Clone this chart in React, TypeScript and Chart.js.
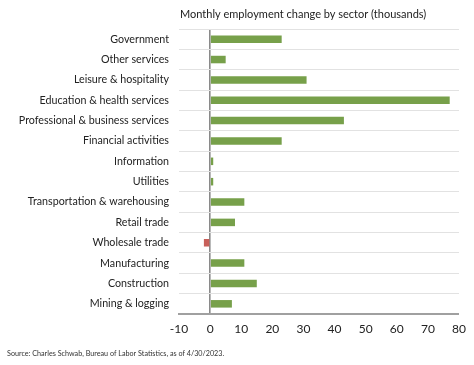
import React, { useEffect, useRef } from "react";
import { Chart, registerables } from "chart.js";

Chart.register(...registerables);

const sectors = [
  "Government",
  "Other services",
  "Leisure & hospitality",
  "Education & health services",
  "Professional & business services",
  "Financial activities",
  "Information",
  "Utilities",
  "Transportation & warehousing",
  "Retail trade",
  "Wholesale trade",
  "Manufacturing",
  "Construction",
  "Mining & logging",
];

const changes = [23, 5, 31, 77, 43, 23, 1, 1, 11, 8, -2, 11, 15, 7];

const xTicks = [-10, 0, 10, 20, 30, 40, 50, 60, 70, 80];

const titleText = "Monthly employment change by sector (thousands)";
const sourceText = "Source: Charles Schwab, Bureau of Labor Statistics, as of 4/30/2023.";

const FONT = "Lato, 'Liberation Sans', sans-serif";

export default function App() {
  const ref = useRef<HTMLCanvasElement | null>(null);

  useEffect(() => {
    const canvas = ref.current;
    if (!canvas) return;
    const textPlugin = {
      id: "texts",
      afterDraw(chart: any) {
        const { ctx, chartArea } = chart;
        ctx.save();
        ctx.fillStyle = "#222";
        ctx.font = `11px ${FONT}`;
        ctx.textAlign = "left";
        ctx.textBaseline = "middle";
        ctx.fillText(titleText, chartArea.left + 1, 14);
        ctx.font = `7.2px ${FONT}`;
        ctx.fillStyle = "#333";
        ctx.fillText(sourceText, 7, 354);
        ctx.restore();
      },
    };
    const chart = new Chart(canvas, {
      type: "bar",
      data: {
        labels: sectors,
        datasets: [
          {
            data: changes,
            backgroundColor: changes.map((v) => (v < 0 ? "#c8605a" : "#77a04a")),
            barPercentage: 0.37,
            categoryPercentage: 1,
          },
        ],
      },
      options: {
        indexAxis: "y",
        animation: false,
        responsive: false,
        maintainAspectRatio: false,
        layout: { padding: { top: 29, right: 12, left: 0, bottom: 0 } },
        plugins: {
          legend: { display: false },
          tooltip: { enabled: false },
          title: { display: false },
        },
        scales: {
          x: {
            min: xTicks[0],
            max: xTicks[xTicks.length - 1],
            afterBuildTicks(scale: any) {
              scale.ticks = xTicks.map((v) => ({ value: v }));
            },
            afterFit(scale: any) {
              scale.height = 51;
            },
            grid: {
              drawTicks: false,
              color: (c: any) => (c.tick && c.tick.value === 0 ? "#8a8a8a" : "rgba(0,0,0,0)"),
              lineWidth: (c: any) => (c.tick && c.tick.value === 0 ? 1.6 : 0),
            },
            border: { display: true, color: "#a0a0a0", width: 2 },
            ticks: {
              padding: 8,
              color: "#222",
              font: { family: FONT, size: 12 },
              maxRotation: 0,
            },
          },
          y: {
            afterFit(scale: any) {
              scale.width = 179;
            },
            grid: {
              drawTicks: false,
              offset: true,
              color: "#e2e2e2",
              lineWidth: 1,
            },
            border: { display: false },
            ticks: {
              padding: 10,
              color: "#222",
              font: { family: FONT, size: 10.7 },
            },
          },
        },
      },
      plugins: [textPlugin],
    });
    return () => chart.destroy();
  }, []);

  return (
    <div style={{ position: "fixed", left: 0, top: 0, width: 474, height: 365, background: "#fff" }}>
      <canvas ref={ref} width={474} height={365} style={{ display: "block" }} />
    </div>
  );
}
